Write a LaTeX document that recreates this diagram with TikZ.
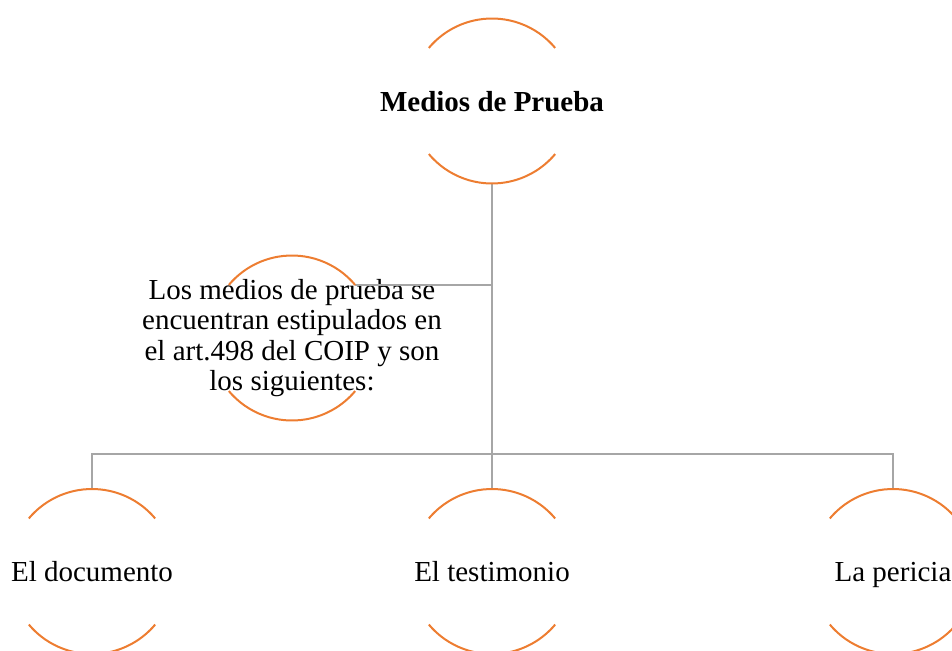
\documentclass[tikz,border=0pt]{standalone}
\usepackage{fontspec}
\setmainfont{Liberation Serif}
\definecolor{naranja}{RGB}{237,125,49}
\definecolor{gris}{RGB}{166,166,166}
\tikzset{
  medio/.style={inner sep=0pt,outer sep=0pt,
    font=\fontsize{21.75}{22.7}\selectfont,align=center},
  simple/.style={medio,text height=15pt,text depth=0pt},
  rama/.style={draw=gris,line width=1.6pt},
  aro/.style={draw=naranja,line width=1.5pt},
}
% arcs above and below the text, radius 61.875pt round the node centre
\newcommand{\aros}[1]{%
  \draw[aro] ([shift={(40:61.875pt)}]#1.center) arc[start angle=40,end angle=140,radius=61.875pt];
  \draw[aro] ([shift={(220:61.875pt)}]#1.center) arc[start angle=220,end angle=320,radius=61.875pt];}
\begin{document}
\begin{tikzpicture}[x=0.75pt,y=0.75pt]
\useasboundingbox (0,0) rectangle (952,-650);
\node[simple,font=\fontsize{21.75}{22.7}\selectfont\bfseries] (raiz) at (492,-101) {Medios de Prueba};
\node[medio] (nota) at (292,-338) {Los medios de prueba se\\encuentran estipulados en\\el art.498 del COIP y son\\los siguientes:};
\node[simple] (doc) at (92,-571.5) {El documento};
\node[simple] (test) at (492,-571.5) {El testimonio};
\node[simple] (peri) at (893,-571.5) {La pericia};
\coordinate (bus) at (492,-454);

\draw[rama] ([yshift=-61.875pt]raiz.center) -- ([yshift=61.875pt]test.center);
\draw[rama] ([shift={(40:61.875pt)}]nota.center) coordinate (ramal) -- (ramal -| bus);
\draw[rama] ([yshift=61.875pt]doc.center) |- (bus) -| ([yshift=61.875pt]peri.center);

\aros{raiz}
\aros{nota}
\aros{doc}
\aros{test}
\aros{peri}
\end{tikzpicture}
\end{document}
